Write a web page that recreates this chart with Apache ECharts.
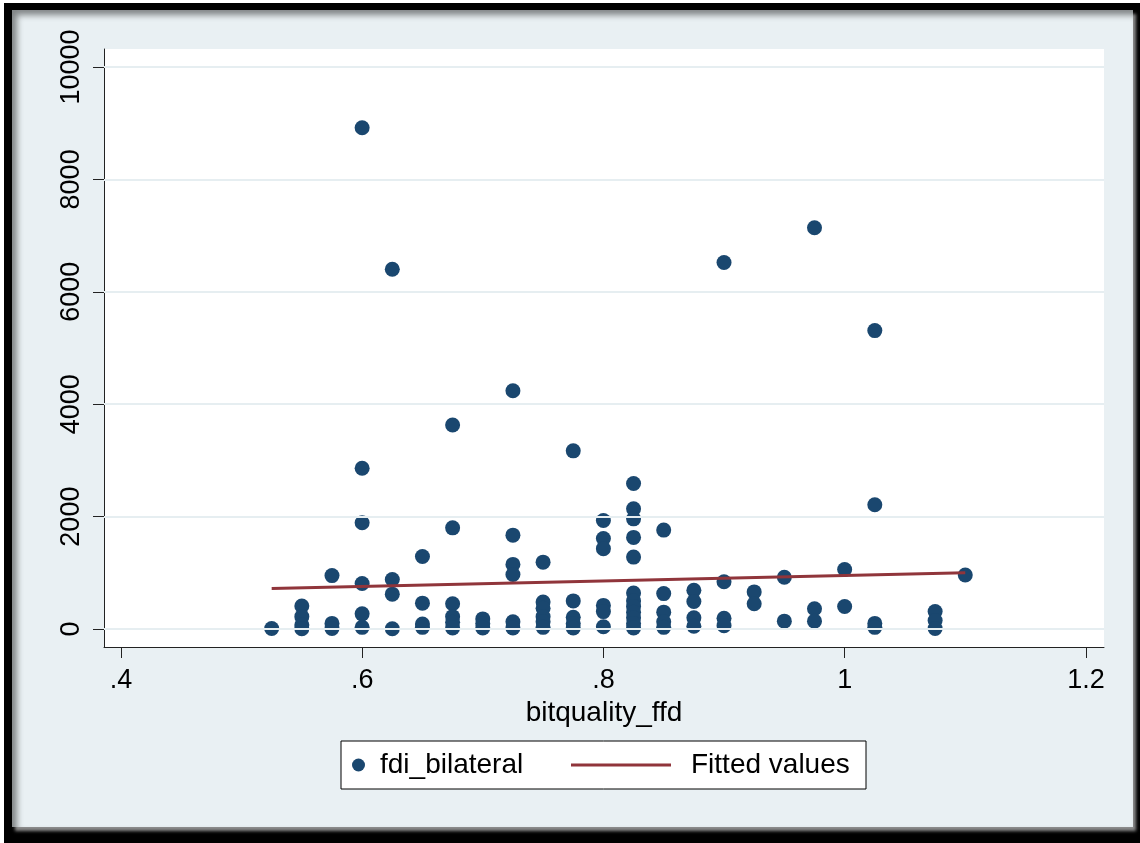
<!DOCTYPE html>
<html>
<head>
<meta charset="utf-8">
<script src="https://cdn.jsdelivr.net/npm/echarts@6/dist/echarts.min.js"></script>
<style>
html, body { margin: 0; padding: 0; background: #fff; }
#frame { position: absolute; left: 4px; top: 3px; width: 1136px; height: 840px; background: #000; }
#panel { position: absolute; left: 12px; top: 10px; width: 1121px; height: 817px; background: #e9f0f3;
  box-shadow: inset 5px 5px 6px rgba(0,0,0,0.45), 3px 4px 3px #8a8a8a; }
#main { position: absolute; left: 0; top: 0; width: 1140px; height: 843px; }
</style>
</head>
<body>
<div id="frame"></div>
<div id="panel"></div>
<div id="main"></div>
<script>
// bitquality_ffd levels and the fdi_bilateral values read at each level
var xLevels = [0.525, 0.55, 0.575, 0.6, 0.625, 0.65, 0.675, 0.7, 0.725, 0.75, 0.775, 0.8,
               0.825, 0.85, 0.875, 0.9, 0.925, 0.95, 0.975, 1.0, 1.025, 1.075, 1.1];
var fdiAtLevel = [
    [10],
    [410, 220, 70, 5],
    [950, 100, 10],
    [8920, 2860, 1890, 810, 270, 30],
    [6400, 880, 620, 5],
    [1290, 460, 90, 30],
    [3630, 1800, 450, 220, 120, 20],
    [180, 100, 20],
    [4240, 1670, 1150, 970, 130, 20],
    [1190, 480, 370, 220, 130, 30],
    [3170, 500, 210, 100, 20],
    [1930, 1610, 1430, 420, 310, 40],
    [2590, 2140, 1960, 1630, 1280, 640, 500, 400, 300, 200, 100, 20],
    [1760, 630, 300, 130, 30],
    [690, 490, 200, 50],
    [6520, 840, 190, 60],
    [660, 450],
    [920, 140],
    [7140, 360, 140],
    [1060, 400],
    [5310, 2210, 100, 30],
    [310, 150, 10],
    [960]
];
// fitted values line (end points)
var fitX = [0.525, 1.1];
var fitY = [720, 1000];

var xTicks = [0.4, 0.6, 0.8, 1, 1.2];
var xTickLabels = ['.4', '.6', '.8', '1', '1.2'];
var yTicks = [0, 2000, 4000, 6000, 8000, 10000];
var yTickLabels = ['0', '2000', '4000', '6000', '8000', '10000'];

var scatterData = [];
for (var i = 0; i < xLevels.length; i++) {
    for (var j = 0; j < fdiAtLevel[i].length; j++) {
        scatterData.push([xLevels[i], fdiAtLevel[i][j]]);
    }
}
var fitData = [];
for (var k = 0; k < fitX.length; k++) {
    fitData.push([fitX[k], fitY[k]]);
}

function tickName(ticks, names) {
    return function (v) {
        for (var n = 0; n < ticks.length; n++) {
            if (Math.abs(ticks[n] - v) < 1e-6) return names[n];
        }
        return '';
    };
}

var font = '"Liberation Sans", Arial, sans-serif';
var chart = echarts.init(document.getElementById('main'));

option = {
    animation: false,
    backgroundColor: 'transparent',
    grid: {
        left: 104, top: 49, width: 1000, height: 598,
        show: true, backgroundColor: '#fff', borderWidth: 0
    },
    xAxis: {
        type: 'value',
        min: 0.386,
        max: 1.215,
        name: 'bitquality_ffd',
        nameLocation: 'middle',
        nameGap: 46,
        nameTextStyle: { fontFamily: font, fontSize: 28, color: '#000' },
        axisLine: { show: true, onZero: false, lineStyle: { color: '#222', width: 1 } },
        axisTick: { show: true, length: 11, customValues: xTicks, lineStyle: { color: '#222' } },
        axisLabel: {
            customValues: xTicks,
            margin: 20,
            fontFamily: font, fontSize: 27, color: '#000',
            formatter: tickName(xTicks, xTickLabels)
        },
        splitLine: { show: false }
    },
    yAxis: {
        type: 'value',
        min: -320,
        max: 10320,
        axisLine: { show: true, onZero: false, lineStyle: { color: '#222', width: 1 } },
        axisTick: { show: true, length: 11, customValues: yTicks, lineStyle: { color: '#222' } },
        axisLabel: {
            customValues: yTicks,
            rotate: 90,
            margin: 19,
            fontFamily: font, fontSize: 27, color: '#000',
            formatter: tickName(yTicks, yTickLabels)
        },
        splitLine: { show: false }
    },
    legend: [
        {
            data: ['fdi_bilateral'],
            left: 352, top: 750,
            itemWidth: 25, itemHeight: 13,
            padding: 0,
            textStyle: { fontFamily: font, fontSize: 28, color: '#000', lineHeight: 30, padding: [0, 0, 0, 4] },
            z: 10
        },
        {
            data: [{ name: 'Fitted values', icon: 'rect' }],
            left: 571, top: 750,
            itemWidth: 100, itemHeight: 3,
            padding: 0,
            textStyle: { fontFamily: font, fontSize: 28, color: '#000', lineHeight: 30, padding: [0, 0, 0, 15] },
            z: 10
        }
    ],
    graphic: [
        {
            type: 'rect',
            shape: { x: 341, y: 741, width: 525, height: 48 },
            style: { fill: '#fff', stroke: '#000', lineWidth: 1 },
            z: 1
        }
    ],
    series: [
        {
            name: 'gridlines',
            type: 'line',
            data: [],
            z: 1,
            markLine: {
                silent: true,
                symbol: ['none', 'none'],
                label: { show: false },
                lineStyle: { color: '#e6eef1', width: 2, type: 'solid' },
                data: yTicks.map(function (v) { return { yAxis: v }; })
            }
        },
        {
            name: 'fdi_bilateral',
            type: 'scatter',
            symbol: 'circle',
            symbolSize: 15,
            itemStyle: { color: '#1a476f', opacity: 1 },
            data: scatterData,
            z: 3
        },
        {
            name: 'Fitted values',
            type: 'line',
            showSymbol: false,
            symbol: 'none',
            lineStyle: { color: '#90353b', width: 3 },
            itemStyle: { color: '#90353b' },
            data: fitData,
            z: 4
        }
    ]
};
chart.setOption(option);
</script>
</body>
</html>
